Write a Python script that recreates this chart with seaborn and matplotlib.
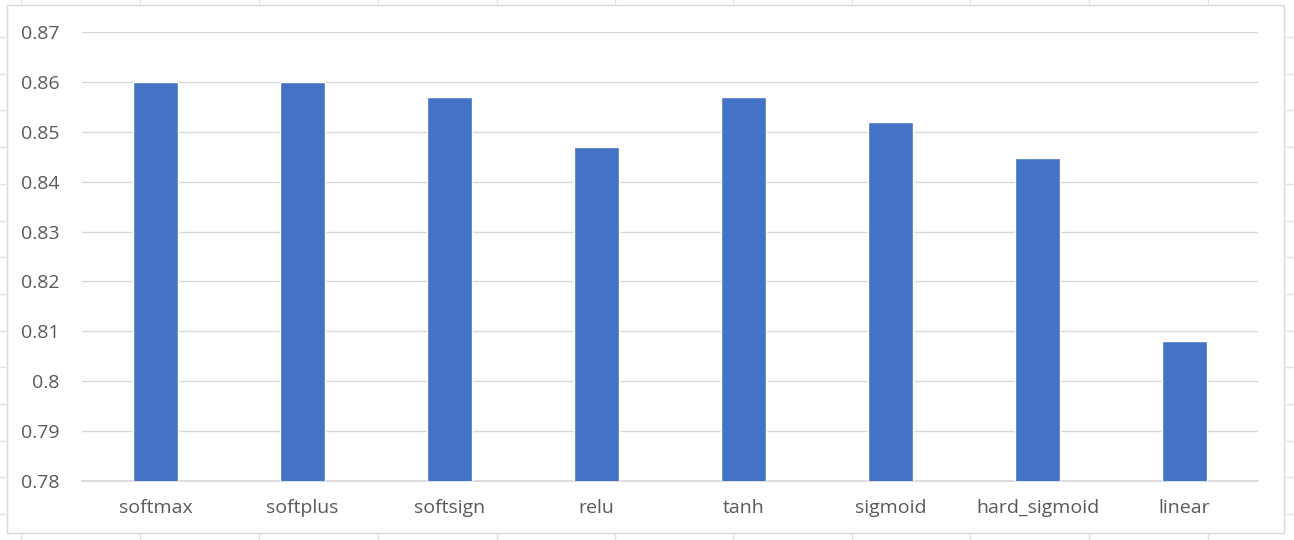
import matplotlib
matplotlib.use("Agg")
import matplotlib.pyplot as plt
from matplotlib.lines import Line2D
from matplotlib.patches import Rectangle
import numpy as np
import pandas as pd
import seaborn as sns

activations = ["softmax", "softplus", "softsign", "relu", "tanh",
               "sigmoid", "hard_sigmoid", "linear"]
accuracy = [0.860, 0.860, 0.857, 0.847, 0.857, 0.852, 0.8448, 0.808]
y_ticks = [0.78, 0.79, 0.80, 0.81, 0.82, 0.83, 0.84, 0.85, 0.86, 0.87]
y_tick_labels = ["0.78", "0.79", "0.8", "0.81", "0.82", "0.83",
                 "0.84", "0.85", "0.86", "0.87"]

df = pd.DataFrame({"activation": activations, "accuracy": accuracy})

sns.set_theme(style="white")
plt.rcParams["font.family"] = ["Open Sans", "DejaVu Sans"]

W, H = 1294, 540
fig = plt.figure(figsize=(W / 100, H / 100), dpi=100)
fig.patch.set_facecolor("white")

# faint worksheet cell borders around the chart frame
cell_col = "#e3e3e3"
for x in [21, 140, 259, 378, 497, 615, 733, 852, 970, 1089, 1208]:
    fig.add_artist(Line2D([x / W, x / W], [1 - 0 / H, 1 - 5 / H],
                          color=cell_col, lw=1, transform=fig.transFigure))
    fig.add_artist(Line2D([x / W, x / W], [1 - 533 / H, 1 - 540 / H],
                          color=cell_col, lw=1, transform=fig.transFigure))
for y in np.arange(37, 540, 36.7):
    fig.add_artist(Line2D([0, 7 / W], [1 - y / H, 1 - y / H],
                          color=cell_col, lw=1, transform=fig.transFigure))
    fig.add_artist(Line2D([1284 / W, 1], [1 - y / H, 1 - y / H],
                          color=cell_col, lw=1, transform=fig.transFigure))

# chart frame
fig.add_artist(Rectangle((7 / W, 1 - 533 / H), (1284 - 7) / W, (533 - 5) / H,
                         fill=False, edgecolor="#d9d9d9", lw=1,
                         transform=fig.transFigure))

ax = fig.add_axes([82 / W, 1 - 481 / H, (1258 - 82) / W, (481 - 32) / H])
sns.barplot(data=df, x="activation", y="accuracy", color="#4472c4",
            width=0.31, saturation=1, ax=ax, zorder=3)

ax.set_ylim(0.78, 0.87)
ax.set_yticks(y_ticks)
ax.set_yticklabels(y_tick_labels)
ax.set_xlim(-0.5, len(activations) - 0.5)
ax.set_xlabel("")
ax.set_ylabel("")
ax.yaxis.grid(True, color="#d9d9d9", lw=1, zorder=0)
ax.set_axisbelow(True)
for s in ["top", "right", "left"]:
    ax.spines[s].set_visible(False)
ax.spines["bottom"].set_color("#d9d9d9")
ax.tick_params(axis="both", length=0, labelsize=14, colors="#595959")
ax.tick_params(axis="y", pad=16)
ax.tick_params(axis="x", pad=13)

fig.savefig("out.png", dpi=100, facecolor="white")
